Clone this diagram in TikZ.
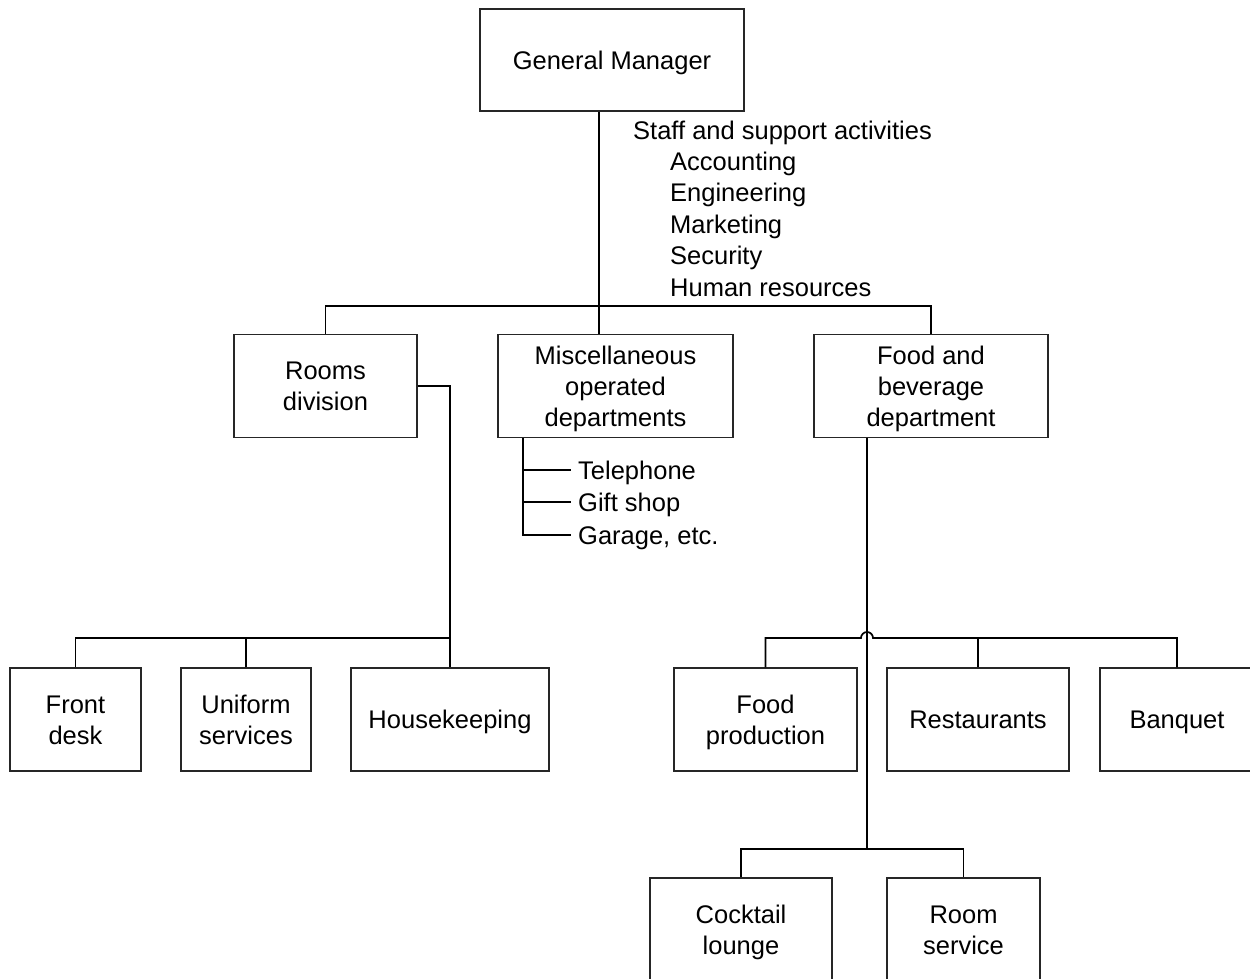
\documentclass[tikz,border=0pt]{standalone}
\usepackage{fontspec}
\setmainfont{Liberation Sans}
% line strut giving equal room above and below the capitals
\newcommand\linestrut{\rule[-6pt]{0pt}{30pt}}
\begin{document}
\begin{tikzpicture}[x=1pt,y=-1pt,
  box/.style={draw=black!85, line width=1.2pt, rectangle, inner sep=0pt,
    align=center, font=\fontsize{25.5}{31}\selectfont},
  lbl/.style={inner sep=0pt, anchor=base west, font=\fontsize{25.5}{31}\selectfont},
  item/.style={inner xsep=7pt, inner ysep=0pt, anchor=west, font=\fontsize{25.5}{31}\selectfont,
    execute at begin node=\linestrut},
  link/.style={draw=black, line width=1.7pt}]
\clip (0,0) rectangle (1250,978);
\useasboundingbox (0,0) rectangle (1250,978);
\fill[white] (0,0) rectangle (1250,978);

% top level
\node[box, minimum width=264, minimum height=102] (gm) at (612,60) {\linestrut General Manager};

% staff functions
\node[lbl] (staff) at (633,139) {Staff and support activities};
\node[lbl] (acc) at (670,170) {Accounting};
\node[lbl] (eng) at (670,201) {Engineering};
\node[lbl] (mkt) at (670,233) {Marketing};
\node[lbl] (sec) at (670,264) {Security};
\node[lbl] (hr) at (670,296) {Human resources};

% divisions
\node[box, minimum width=183, minimum height=103] (rooms) at (325.5,386) {\linestrut Rooms\\division\linestrut};
\node[box, minimum width=235, minimum height=103] (misc) at (615.5,386) {\linestrut Miscellaneous\\operated\\departments\linestrut};
\node[box, minimum width=234, minimum height=103] (fb) at (931,386) {\linestrut Food and\\beverage\\department\linestrut};

% rooms division departments
\node[box, minimum width=131, minimum height=103] (fd) at (75.5,719.5) {\linestrut Front\\desk\linestrut};
\node[box, minimum width=130, minimum height=103] (us) at (246,719.5) {\linestrut Uniform\\services\linestrut};
\node[box, minimum width=198, minimum height=103] (hk) at (450,719.5) {\linestrut Housekeeping};

% food and beverage departments
\node[box, minimum width=183, minimum height=103] (fp) at (765.5,719.5) {\linestrut Food\\production\linestrut};
\node[box, minimum width=182, minimum height=103] (rest) at (978,719.5) {\linestrut Restaurants};
\node[box, minimum width=154, minimum height=103] (bq) at (1177,719.5) {\linestrut Banquet};
\node[box, minimum width=182, minimum height=103] (cl) at (741,929.5) {\linestrut Cocktail\\lounge\linestrut};
\node[box, minimum width=153, minimum height=103] (rs) at (963.5,929.5) {\linestrut Room\\service\linestrut};

% miscellaneous operated departments list
\node[item] (tel) at (571,470) {Telephone};
\node[item] (gift) at (571,502) {Gift shop};
\node[item] (gar) at (571,535) {Garage, etc.};

% junction points
\coordinate (spine) at (599,306);
\coordinate (rbar) at (450,638);
\coordinate (mline) at (523,438);
\coordinate (fline) at (867,638);
\coordinate (fbot) at (867,849);

% general manager to divisions
\draw[link] (gm.south -| spine) -- (misc.north -| spine);
\draw[link] (rooms.north) |- (spine) -| (fb.north);

% rooms division
\draw[link] (rooms.east) -| (hk.north);
\draw[link] (fd.north) |- (rbar);
\draw[link] (us.north) -- (us.north |- rbar);

% miscellaneous list
\draw[link] (misc.south -| mline) |- (gar.west);
\draw[link] (tel.west -| mline) -- (tel.west);
\draw[link] (gift.west -| mline) -- (gift.west);

% food and beverage
\draw[link] (fb.south -| fline) -- (fbot);
\draw[link] (fp.north) -- (fp.north |- fline) -- ([xshift=-6]fline) arc (180:360:6) -- (fline -| bq.north) -- (bq.north);
\draw[link] (rest.north) -- (rest.north |- fline);
\draw[link] (cl.north) |- (fbot) -| (rs.north);
\end{tikzpicture}
\end{document}
